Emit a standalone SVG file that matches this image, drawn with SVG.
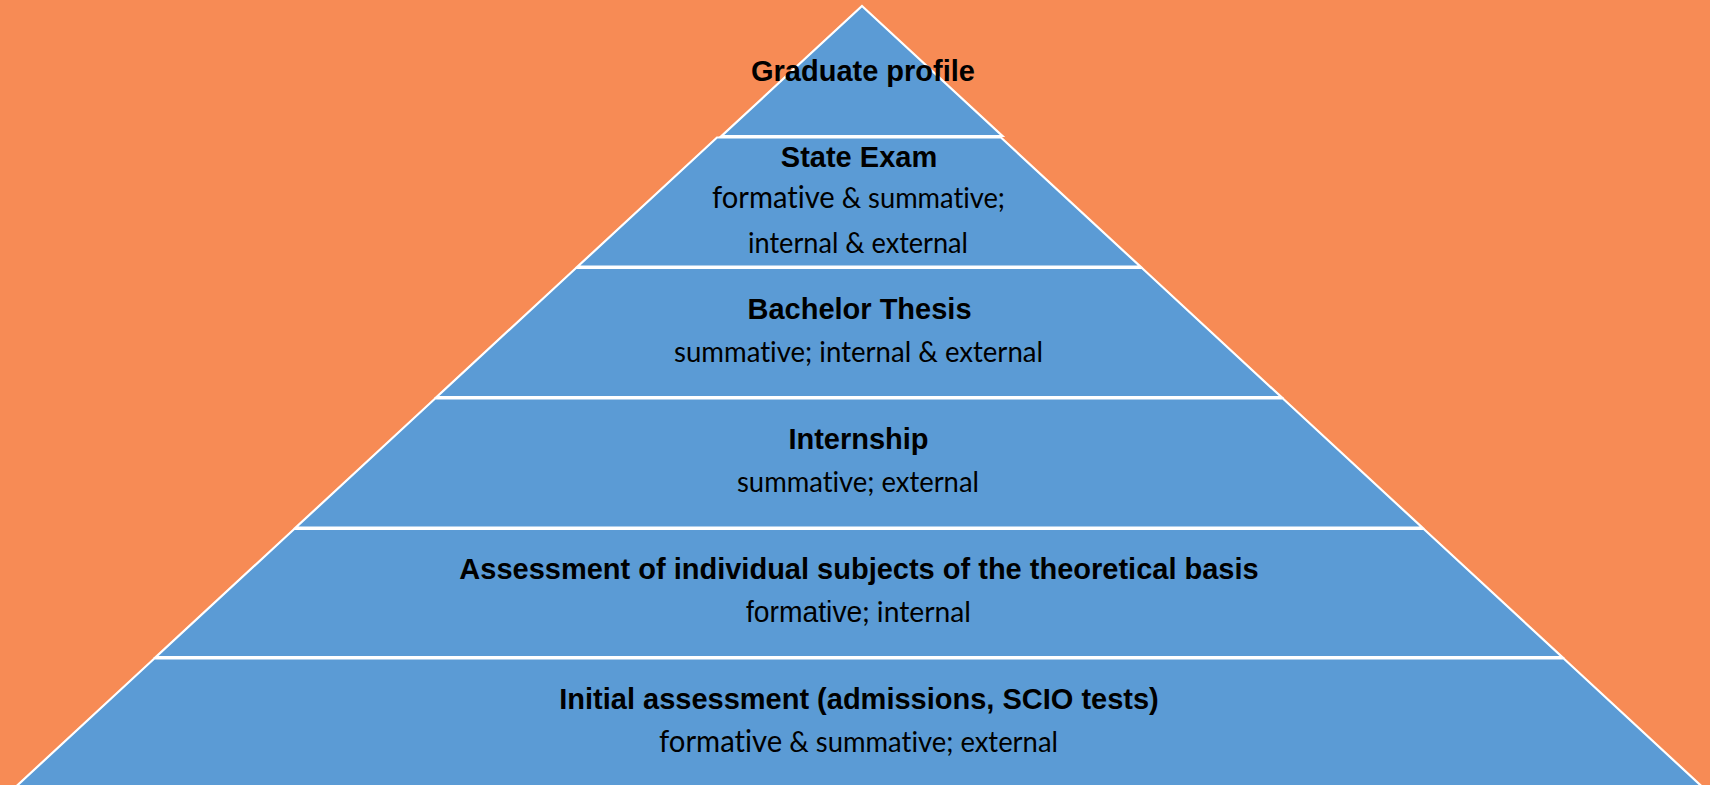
<svg xmlns="http://www.w3.org/2000/svg" width="1710" height="785" viewBox="0 0 1710 785">
  <style>
    .tier { fill: #5B9BD5; stroke: #FFFFFF; stroke-width: 2.2; stroke-linejoin: miter; }
    .title { font-family: "Liberation Sans", Arial, sans-serif; font-weight: bold; font-size: 29px; fill: #000000; text-anchor: middle; }
    .sub { font-family: Lato, "Open Sans", sans-serif; font-size: 29px; fill: #000000; text-anchor: middle; font-variant-ligatures: none; font-feature-settings: "liga" 0, "clig" 0; }
    .big { font-size: 31px; }
    .arial { font-family: "Liberation Sans", Arial, sans-serif; }
  </style>

  <!-- background -->
  <rect x="0" y="0" width="1710" height="785" fill="#F78B55"/>

  <!-- apex -->
  <g id="graduate-profile">
    <polygon class="tier" points="862,6 1002.4,136 721.6,136"/>
    <text class="title" x="863" y="81">Graduate profile</text>
  </g>

  <g id="state-exam">
    <polygon class="tier" points="717,137.5 1001,137.5 1140.3,266.5 577.7,266.5"/>
    <text class="title" x="859" y="167">State Exam</text>
    <text class="sub" x="858.5" y="208" textLength="293" lengthAdjust="spacingAndGlyphs"><tspan class="big">formative</tspan> &amp; summative;</text>
    <text class="sub" x="858" y="253" textLength="220" lengthAdjust="spacingAndGlyphs">internal &amp; external</text>
  </g>

  <g id="bachelor-thesis">
    <polygon class="tier" points="576,268 1142,268 1281.3,397 436.7,397"/>
    <text class="title" x="859.5" y="319">Bachelor Thesis</text>
    <text class="sub" x="858.5" y="362" textLength="369" lengthAdjust="spacingAndGlyphs">summative; internal &amp; external</text>
  </g>

  <g id="internship">
    <polygon class="tier" points="435.1,398.5 1282.9,398.5 1422.2,527.5 295.8,527.5"/>
    <text class="title" x="858.5" y="449">Internship</text>
    <text class="sub" x="858" y="492" textLength="242" lengthAdjust="spacingAndGlyphs">summative; external</text>
  </g>

  <g id="subject-assessment">
    <polygon class="tier" points="294.2,529 1423.8,529 1562.1,657 155.9,657"/>
    <text class="title" x="859" y="579">Assessment of individual subjects of the theoretical basis</text>
    <text class="sub" x="858.5" y="622" textLength="225" lengthAdjust="spacingAndGlyphs"><tspan class="arial">formative</tspan>; internal</text>
  </g>

  <g id="initial-assessment">
    <polygon class="tier" points="154.3,658.5 1563.7,658.5 1704.6,789 13.4,789"/>
    <text class="title" x="859" y="709">Initial assessment (admissions, SCIO tests)</text>
    <text class="sub" x="858.5" y="752" textLength="399" lengthAdjust="spacingAndGlyphs"><tspan class="big">formative</tspan> &amp; summative; external</text>
  </g>
</svg>
